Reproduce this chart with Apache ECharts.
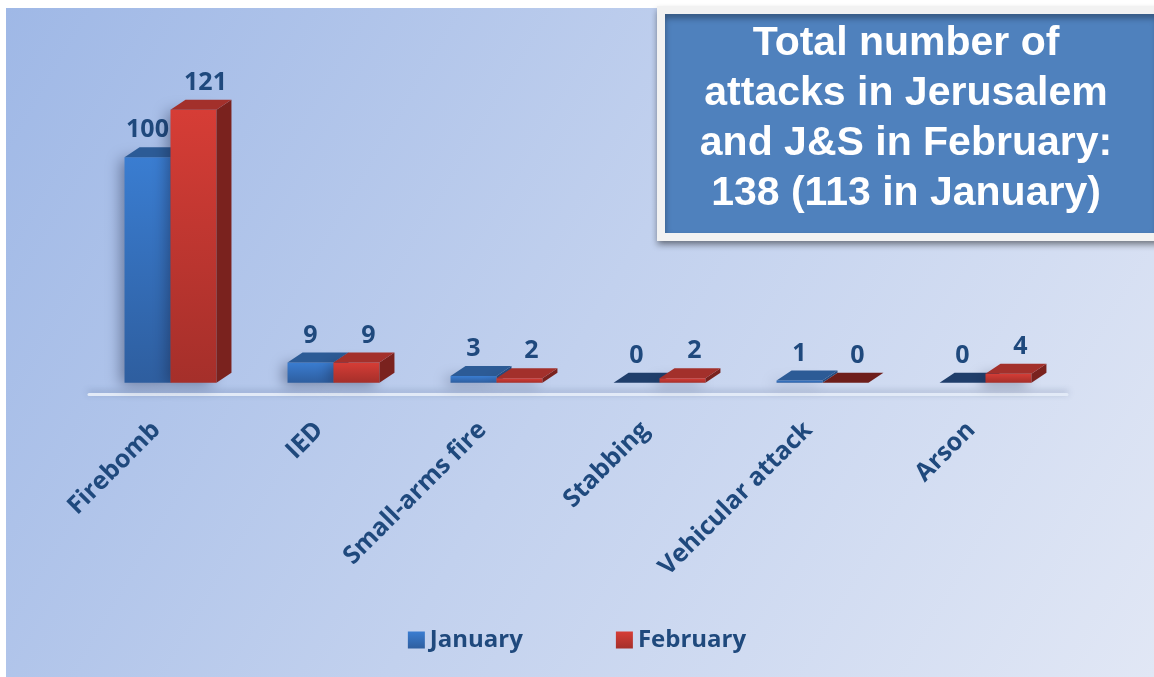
<!DOCTYPE html>
<html>
<head>
<meta charset="utf-8">
<title>Attacks in Jerusalem and J&amp;S</title>
<script src="https://cdn.jsdelivr.net/npm/echarts@6/dist/echarts.min.js"></script>
<style>
  html, body { margin: 0; padding: 0; background: #ffffff; }
  #chart { width: 1154px; height: 677px; }
</style>
</head>
<body>
<div id="chart"></div>
<script>
// chart data
const categories = ['Firebomb', 'IED', 'Small-arms fire', 'Stabbing', 'Vehicular attack', 'Arson']
const january = [100, 9, 3, 0, 1, 0]
const february = [121, 9, 2, 2, 0, 4]
const titleLines = [
  'Total number of',
  'attacks in Jerusalem',
  'and J&S in February:',
  '138 (113 in January)'
]

const chart = echarts.init(document.getElementById('chart'))

const labelColor = '#1f497d'
const DX = 15
const DY = 10

const palette = {
  January: {
    front: ['#3a7dd1', '#2e5e9f'],
    side: '#244d82',
    top: '#2c5b96',
    topZero: '#1f3e6b',
    labelShift: 0
  },
  February: {
    front: ['#d63d36', '#a52f2a'],
    side: '#7a221e',
    top: '#a3302b',
    topZero: '#6e1e1b',
    labelShift: 12
  }
}

function vGrad(c) {
  return new echarts.graphic.LinearGradient(0, 0, 0, 1, [
    { offset: 0, color: c[0] },
    { offset: 1, color: c[1] }
  ])
}

// fake 3d bar: front face + side + top + value label
function makeRender(name, left) {
  const p = palette[name]
  return function (params, api) {
    const cat = api.value(0)
    const val = api.value(1)
    const base = api.coord([cat, 0])
    const top = api.coord([cat, val])
    const w = api.size([1, 0])[0] * 0.282
    const x0 = left ? base[0] - w : base[0]
    const x1 = x0 + w
    const h = base[1] - top[1]
    return {
      type: 'group',
      children: [
        {
          type: 'rect',
          shape: { x: x0, y: top[1], width: w, height: h },
          style: {
            fill: vGrad(p.front),
            shadowBlur: 14,
            shadowColor: 'rgba(20,30,60,0.45)',
            shadowOffsetX: -4,
            shadowOffsetY: 2
          }
        },
        {
          type: 'polygon',
          shape: {
            points: [[x1, top[1]], [x1 + DX, top[1] - DY], [x1 + DX, base[1] - DY], [x1, base[1]]]
          },
          style: { fill: p.side }
        },
        {
          type: 'polygon',
          shape: {
            points: [[x0, top[1]], [x0 + DX, top[1] - DY], [x1 + DX, top[1] - DY], [x1, top[1]]]
          },
          style: { fill: val === 0 ? p.topZero : p.top }
        },
        {
          type: 'text',
          x: x0 + w / 2 + p.labelShift,
          y: top[1] - 27,
          style: {
            text: String(val),
            fill: labelColor,
            fontSize: 25,
            fontWeight: 'bold',
            fontFamily: 'Open Sans',
            align: 'center',
            verticalAlign: 'middle'
          }
        }
      ]
    }
  }
}

chart.setOption({
  animation: false,
  graphic: [
    {
      type: 'rect',
      z: -10,
      silent: true,
      shape: { x: 6, y: 8, width: 1148, height: 669 },
      style: {
        fill: new echarts.graphic.LinearGradient(0, 0, 1, 1, [
          { offset: 0, color: '#9fb8e6' },
          { offset: 0.5, color: '#c2d1ee' },
          { offset: 1, color: '#e1e7f5' }
        ])
      }
    },
    {
      type: 'group',
      z: 100,
      children: [
        {
          type: 'rect',
          shape: { x: 661, y: 10, width: 500, height: 227 },
          style: {
            fill: '#4f81bd',
            stroke: '#f2f2f2',
            lineWidth: 8,
            shadowBlur: 6,
            shadowOffsetY: 4,
            shadowColor: 'rgba(0,0,0,0.35)'
          }
        },
        {
          type: 'text',
          x: 906,
          y: 19,
          style: {
            text: titleLines.join('\n'),
            fill: '#ffffff',
            font: 'bold 41px "Liberation Sans", Arial, sans-serif',
            lineHeight: 50,
            align: 'center',
            verticalAlign: 'top'
          }
        }
      ]
    }
  ],
  legend: {
    data: ['January', 'February'],
    top: 623,
    left: 'center',
    icon: 'rect',
    itemWidth: 17,
    itemHeight: 17,
    itemGap: 93,
    textStyle: {
      color: labelColor,
      fontSize: 24,
      fontWeight: 'bold',
      fontFamily: 'Open Sans'
    }
  },
  grid: {
    left: 89,
    right: 87,
    top: 67,
    bottom: 283
  },
  xAxis: {
    type: 'category',
    data: categories,
    axisTick: { show: false },
    axisLine: {
      onZero: false,
      lineStyle: {
        color: '#e2eaf7',
        width: 3,
        shadowBlur: 6,
        shadowColor: 'rgba(60,80,120,0.35)',
        shadowOffsetY: -2
      }
    },
    axisLabel: {
      rotate: 45,
      interval: 0,
      margin: 18,
      padding: [0, 20, 0, 0],
      color: labelColor,
      fontSize: 25,
      fontWeight: 'bold',
      fontFamily: 'Open Sans'
    }
  },
  yAxis: {
    type: 'value',
    min: -5,
    max: 140,
    interval: 5,
    show: false,
    splitLine: { show: false }
  },
  series: [
    {
      name: 'January',
      type: 'custom',
      renderItem: makeRender('January', true),
      itemStyle: { color: vGrad(palette.January.front) },
      data: january.map((v, i) => [i, v])
    },
    {
      name: 'February',
      type: 'custom',
      renderItem: makeRender('February', false),
      itemStyle: { color: vGrad(palette.February.front) },
      data: february.map((v, i) => [i, v])
    }
  ]
})
</script>
</body>
</html>
